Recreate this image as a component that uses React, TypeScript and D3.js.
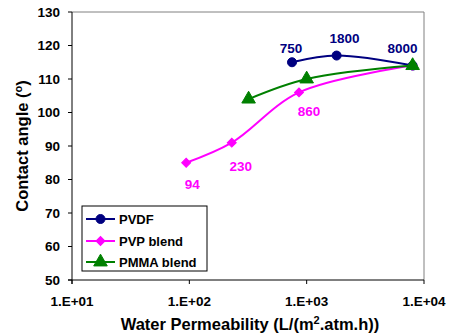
import * as d3 from 'd3';

// Series data (water permeability, contact angle)
const pvdfX = [750, 1800, 8000];
const pvdfY = [115, 117, 114];
const pvpX = [94, 230, 860, 8000];
const pvpY = [85, 91, 106, 114];
const pmmaX = [320, 1000, 8000];
const pmmaY = [104, 110, 114];

const xTicks = [1e1, 1e2, 1e3, 1e4];
const xTickLabels = ['1.E+01', '1.E+02', '1.E+03', '1.E+04'];
const yTicks = [50, 60, 70, 80, 90, 100, 110, 120, 130];

// point labels: series, index, text, pixel offset
const pointLabels = [
    { s: 'pvdf', i: 0, text: '750', dx: -1, dy: -9 },
    { s: 'pvdf', i: 1, text: '1800', dx: 8, dy: -13 },
    { s: 'pvdf', i: 2, text: '8000', dx: -10, dy: -13 },
    { s: 'pvp', i: 0, text: '94', dx: 6, dy: 26 },
    { s: 'pvp', i: 1, text: '230', dx: 9, dy: 28 },
    { s: 'pvp', i: 2, text: '860', dx: 10, dy: 24 },
];

const W = 449;
const H = 336;
const margin = { top: 12, right: 25, bottom: 56, left: 72 };
const FONT = '"Liberation Sans", Arial, sans-serif';

export default function App() {
    const innerW = W - margin.left - margin.right;
    const innerH = H - margin.top - margin.bottom;

    const x = d3.scaleLog().domain([10, 10000]).range([margin.left, margin.left + innerW]);
    const y = d3.scaleLinear().domain([50, 130]).range([margin.top + innerH, margin.top]);

    const series = [
        { key: 'pvdf', name: 'PVDF', color: '#000080', xs: pvdfX, ys: pvdfY, marker: 'circle' },
        { key: 'pvp', name: 'PVP blend', color: '#FF00FF', xs: pvpX, ys: pvpY, marker: 'diamond' },
        { key: 'pmma', name: 'PMMA blend', color: '#008000', xs: pmmaX, ys: pmmaY, marker: 'triangle' },
    ];

    const line = d3.line<[number, number]>()
        .x(d => x(d[0]))
        .y(d => y(d[1]))
        .curve(d3.curveCatmullRom.alpha(0.5));

    const symbolPath = (m: string) => {
        if (m === 'circle') return d3.symbol(d3.symbolCircle, 64)()!;
        if (m === 'diamond') return d3.symbol(d3.symbolSquare, 40)()!;
        return d3.symbol(d3.symbolTriangle, 80)()!;
    };
    const symbolRot = (m: string) => (m === 'diamond' ? ' rotate(45)' : '');

    const x0 = margin.left;
    const x1 = margin.left + innerW;
    const y0 = margin.top + innerH;
    const y1 = margin.top;

    const legend = { x: 82, y: 206, w: 125, h: 65 };
    const legendRows = [219, 241, 262];

    return (
        <svg width={W} height={H} style={{ position: 'absolute', left: 0, top: 0, background: '#fff' }}
            fontFamily={FONT} fontWeight="bold">
            {/* plot frame */}
            <line x1={x0} x2={x1} y1={y1} y2={y1} stroke="#808080" strokeWidth={1} />
            <line x1={x1} x2={x1} y1={y1} y2={y0} stroke="#808080" strokeWidth={1} />
            <line x1={x0} x2={x0} y1={y1} y2={y0 + 4} stroke="#000" strokeWidth={1} />
            <line x1={x0 - 4} x2={x1} y1={y0} y2={y0} stroke="#000" strokeWidth={1} />

            {/* y axis */}
            {yTicks.map(t => (
                <g key={t}>
                    <line x1={x0 - 4} x2={x0} y1={y(t)} y2={y(t)} stroke="#000" />
                    <text x={x0 - 12} y={y(t) + 4.5} textAnchor="end" fontSize={13.5}>{t}</text>
                </g>
            ))}

            {/* x axis */}
            {xTicks.map((t, i) => (
                <g key={t}>
                    <line x1={x(t)} x2={x(t)} y1={y0} y2={y0 + 4} stroke="#000" />
                    <text x={x(t)} y={306} textAnchor="middle" fontSize={13.5}>{xTickLabels[i]}</text>
                </g>
            ))}

            {/* axis titles */}
            <text x={(x0 + x1) / 2 + 2} y={330} textAnchor="middle" fontSize={16.5}>
                Water Permeability (L/(m<tspan dy={-6} fontSize={11}>2</tspan><tspan dy={6}>.atm.h))</tspan>
            </text>
            <text transform={`translate(28,${(y0 + y1) / 2}) rotate(-90)`} textAnchor="middle" fontSize={16.5}>
                Contact angle (<tspan dy={-6} fontSize={11}>o</tspan><tspan dy={6}>)</tspan>
            </text>

            {/* series */}
            {series.map(s => {
                const pts = s.xs.map((v, i) => [v, s.ys[i]] as [number, number]);
                return (
                    <g key={s.key}>
                        <path d={line(pts)!} fill="none" stroke={s.color} strokeWidth={2} />
                        {pts.map((p, i) => (
                            <path key={i} d={symbolPath(s.marker)}
                                transform={`translate(${x(p[0])},${y(p[1])})${symbolRot(s.marker)}`}
                                fill={s.color} stroke={s.color} strokeWidth={1} />
                        ))}
                    </g>
                );
            })}

            {/* point labels */}
            {pointLabels.map((l, k) => {
                const s = series.find(ss => ss.key === l.s)!;
                return (
                    <text key={k} x={x(s.xs[l.i]) + l.dx} y={y(s.ys[l.i]) + l.dy}
                        textAnchor="middle" fontSize={13.5} fill={s.color}>{l.text}</text>
                );
            })}

            {/* legend */}
            <rect x={legend.x} y={legend.y} width={legend.w} height={legend.h} fill="#fff" stroke="#000" strokeWidth={1} />
            {series.map((s, i) => (
                <g key={s.key}>
                    <line x1={86} x2={115} y1={legendRows[i]} y2={legendRows[i]} stroke={s.color} strokeWidth={2} />
                    <path d={symbolPath(s.marker)}
                        transform={`translate(100.5,${legendRows[i]})${symbolRot(s.marker)}`}
                        fill={s.color} stroke={s.color} />
                    <text x={119} y={legendRows[i] + 4.5} fontSize={13}>{s.name}</text>
                </g>
            ))}
        </svg>
    );
}
